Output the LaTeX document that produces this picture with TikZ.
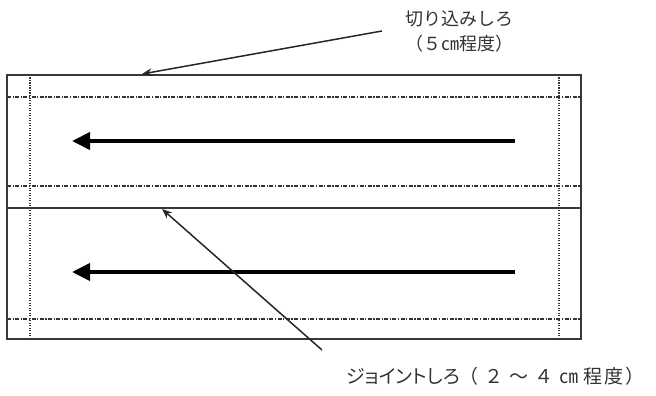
\documentclass[tikz,border=0pt]{standalone}
\usepackage{fontspec}
\newfontfamily\jp{Noto Sans CJK JP}
\newfontfamily\jpp[RawFeature=+palt]{Noto Sans CJK JP}
\usetikzlibrary{arrows.meta}
\begin{document}
\begin{tikzpicture}[x=1pt,y=-1pt,
  frame/.style={line width=1.7pt, draw=black!78},
  dashdot/.style={line width=1.4pt, draw=black!80, dash pattern=on 4pt off 1.5pt on 1.2pt off 1.5pt},
  dotv/.style={line width=1.6pt, draw=black!80, dash pattern=on 1.3pt off 1.2pt},
  bigarrow/.style={line width=4pt, draw=black, -{Triangle[length=18pt,width=17pt]}},
  callout/.style={line width=1.5pt, draw=black!85, -{Stealth[length=10pt,width=8pt]}},
  lbl/.style={font=\jp\fontsize{18}{25}\selectfont, text=black!80, inner sep=0pt}]
\useasboundingbox (0,0) rectangle (656,396);
% frame
\draw[frame] (7,75) rectangle (581,339);
\draw[frame] (7,208) -- (581,208);
% dash-dot margin lines
\draw[dashdot] (7,97) -- (581,97);
\draw[dashdot] (7,186) -- (581,186);
\draw[dashdot] (7,319) -- (581,319);
% dotted vertical margin lines
\draw[dotv] (30,75) -- (30,339);
\draw[dotv] (559,75) -- (559,339);
% direction arrows
\coordinate (a1s) at (515,141);
\coordinate (a1e) at (72,141);
\coordinate (a2s) at (515,272);
\coordinate (a2e) at (72,272);
\draw[bigarrow] (a1s) -- (a1e);
\draw[bigarrow] (a2s) -- (a2e);
% labels
\node[lbl, align=center] (t1) at (459,32) {切り込みしろ\\（５㎝程度）};
\node[lbl, anchor=west, font=\jp\fontsize{19}{25}\selectfont] (t2) at (346,376) {{\jpp ジョイントしろ}（\kern6pt ２\kern6pt ～\kern6pt ４\kern6pt ㎝\kern5pt 程\kern2pt 度\kern2pt ）};
% callouts
\coordinate (c1s) at (382,31);
\coordinate (c1e) at (142,74);
\coordinate (c2s) at (322,350);
\coordinate (c2e) at (162,209);
\draw[callout] (c1s) -- (c1e);
\draw[callout] (c2s) -- (c2e);
\end{tikzpicture}
\end{document}
